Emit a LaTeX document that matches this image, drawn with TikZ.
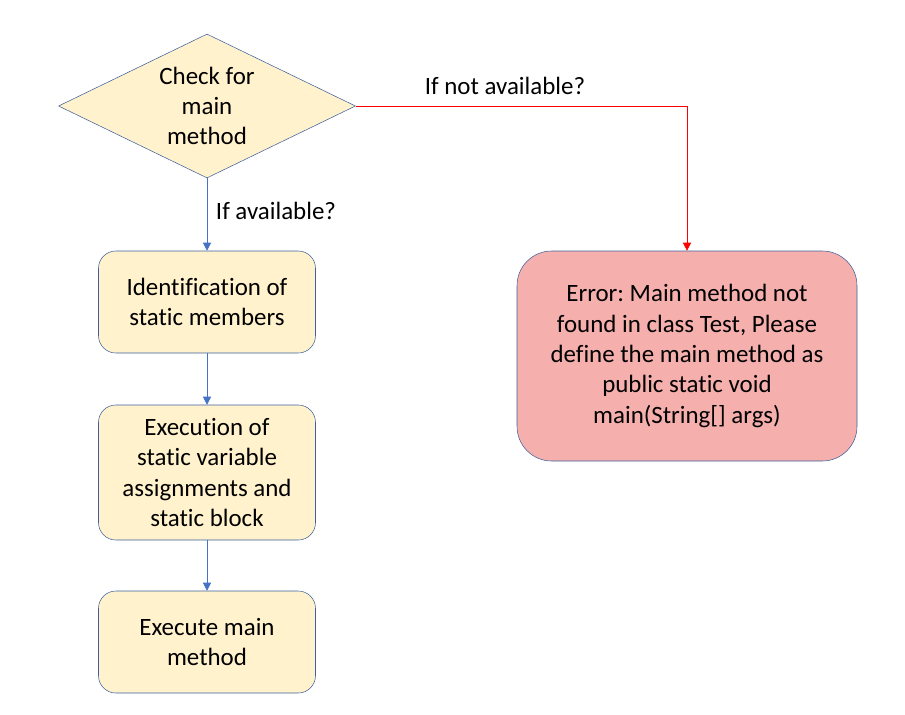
\documentclass[tikz,border=0pt]{standalone}
\usepackage{fontspec}
\setmainfont{Carlito}[Ligatures={NoCommon}]
\frenchspacing
\usepackage{xcolor}
\usetikzlibrary{shapes.geometric,arrows.meta,positioning}
\definecolor{boxfill}{HTML}{FFF2CC}
\definecolor{boxline}{HTML}{3E5F9C}
\definecolor{arrowblue}{HTML}{4472C4}
\definecolor{errfill}{HTML}{F5AFAD}
\tikzset{
    line width=0.75pt,
    decision/.style ={diamond, draw=boxline, fill=boxfill, shape aspect=2.06, inner sep=0pt,
                      minimum width=222.75pt, minimum height=108pt, align=center},
    procbox/.style ={rectangle, draw=boxline, fill=boxfill, rounded corners=13pt,
                     minimum width=162.75pt, minimum height=76.5pt, align=center},
    errbox/.style ={procbox, fill=errfill, rounded corners=26pt,
                    minimum width=255pt, minimum height=157.5pt},
    yesflow/.style ={draw=arrowblue, -{Triangle[width=6pt,length=6pt]}},
    noflow/.style ={draw=red, -{Triangle[width=6pt,length=6pt]}},
    el/.style = {inner sep=0pt}
}

\begin{document}
\begin{tikzpicture}[x=0.75pt,y=-0.75pt,font=\fontsize{18.7}{22.7}\selectfont]
  \useasboundingbox (0,0) rectangle (905,714);
  % Draw the nodes
  \node[decision] (check) at (207,106) {Check for\\main\\method};
  \node[procbox] (ident) at (207,302) {Identification of\\static members};
  \node[procbox, minimum height=101.25pt] (exec) at (207,472.5) {Execution of\\static variable\\assignments and\\static block};
  \node[procbox] (runmain) at (207,642) {Execute main\\method};
  \node[errbox] (error) at (687,356) {Error: Main method not\\found in class Test, Please\\define the main method as\\public static void\\main(String[] args)};

  % Draw the arrows
  \draw[yesflow] (check) -- (ident);
  \draw[yesflow] (ident) -- (exec);
  \draw[yesflow] (exec) -- (runmain);
  \draw[noflow] (check.east) -| (error.north);

  % Labels
  \node[el] (yeslabel) at (276,211) {If available?};
  \node[el] (nolabel) at (505,86) {If not available?};
\end{tikzpicture}
\end{document}
